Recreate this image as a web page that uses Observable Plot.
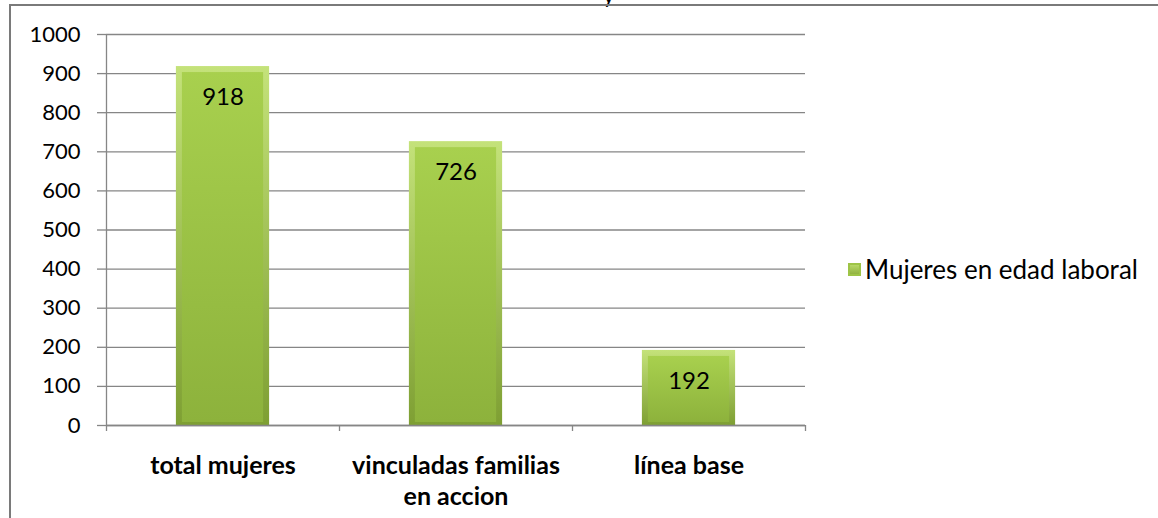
<!DOCTYPE html>
<html><head><meta charset="utf-8">
<script src="https://cdn.jsdelivr.net/npm/d3@7"></script>
<script src="https://cdn.jsdelivr.net/npm/@observablehq/plot@0.6"></script>
<style>
body{margin:0;background:#fff;}
#wrap{position:relative;width:1158px;height:518px;overflow:hidden;font-family:Lato,"Open Sans",sans-serif;}
#frame{position:absolute;left:9px;top:4px;width:1300px;height:700px;border-left:2px solid #7a7a7a;border-top:2px solid #7a7a7a;box-sizing:border-box;pointer-events:none;z-index:5;}
#chart{position:absolute;left:0;top:0;}
#legend{position:absolute;left:848px;top:253px;font-size:26px;color:#000;display:flex;align-items:center;white-space:nowrap;}
#legend .sw{width:13px;height:13px;margin-right:4px;background:linear-gradient(#bfe06f,#8aab3a);box-shadow:inset 0 0 0 2px #9ec447;}
#cut{position:absolute;left:603px;top:-19px;font-size:22px;}
</style></head>
<body>
<div id="wrap">
  <div id="cut">y</div>
  <div id="chart"></div>
  <div id="frame"></div>
  <div id="legend"><span class="sw"></span><span id="legText"></span></div>
</div>
<script>
const categories = ["total mujeres", "vinculadas familias\nen accion", "línea base"];
const values = [918, 726, 192];
const yTicks = [0, 100, 200, 300, 400, 500, 600, 700, 800, 900, 1000];
const seriesName = "Mujeres en edad laboral";

const data = categories.map((c, i) => ({i, c, v: values[i]}));
const gray = "#868686";
const font = "Lato, 'Open Sans', sans-serif";

const chart = Plot.plot({
  width: 1158, height: 518,
  marginLeft: 106, marginRight: 353, marginTop: 34, marginBottom: 93,
  style: {fontFamily: font, fontSize: "22px", color: "#000", background: "transparent", overflow: "visible"},
  x: {domain: [0, categories.length], axis: null},
  y: {domain: [0, 1000], axis: null},
  marks: [
    Plot.gridY(yTicks, {stroke: gray, strokeOpacity: 1, strokeWidth: 1.3}),
    Plot.axisY(yTicks, {label: null, tickFormat: d => String(d), tickSize: 9, tickPadding: 17, stroke: gray, strokeOpacity: 1, strokeWidth: 1.3, fill: "#000", fontSize: 22}),
    Plot.ruleX([0], {stroke: gray, strokeWidth: 1.3}),
    Plot.rectY(data, {x1: d => d.i + 0.3, x2: d => d.i + 0.7, y: "v", fill: "url(#gOuter)"}),
    Plot.rectY(data, {x1: d => d.i + 0.3, x2: d => d.i + 0.7, y: "v", fill: "url(#gInner)", insetLeft: 6, insetRight: 6, insetTop: 6, insetBottom: 3}),
    Plot.ruleY([0], {stroke: gray, strokeWidth: 1.3}),
    Plot.axisX(d3.range(categories.length + 1), {label: null, tickSize: 6, tickFormat: () => "", stroke: gray, strokeOpacity: 1, strokeWidth: 1.3}),
    Plot.text(data, {x: d => d.i + 0.5, y: "v", text: d => String(d.v), dy: 31, fontSize: 24, fill: "#000"}),
    Plot.text(data, {x: d => d.i + 0.5, y: 0, text: "c", lineAnchor: "top", dy: 26, lineHeight: 1.25, fontSize: 25, fontWeight: "bold", fill: "#000"})
  ]
});

const defs = d3.select(chart).insert("defs", ":first-child");
const go = defs.append("linearGradient").attr("id", "gOuter").attr("x1", 0).attr("y1", 0).attr("x2", 0).attr("y2", 1);
go.append("stop").attr("offset", "0%").attr("stop-color", "#c4e27a");
go.append("stop").attr("offset", "100%").attr("stop-color", "#7e9f33");
const gi = defs.append("linearGradient").attr("id", "gInner").attr("x1", 0).attr("y1", 0).attr("x2", 0).attr("y2", 1);
gi.append("stop").attr("offset", "0%").attr("stop-color", "#a8d04e");
gi.append("stop").attr("offset", "100%").attr("stop-color", "#8db23c");

document.getElementById("chart").appendChild(chart);
document.getElementById("legText").textContent = seriesName;
</script>
</body></html>
